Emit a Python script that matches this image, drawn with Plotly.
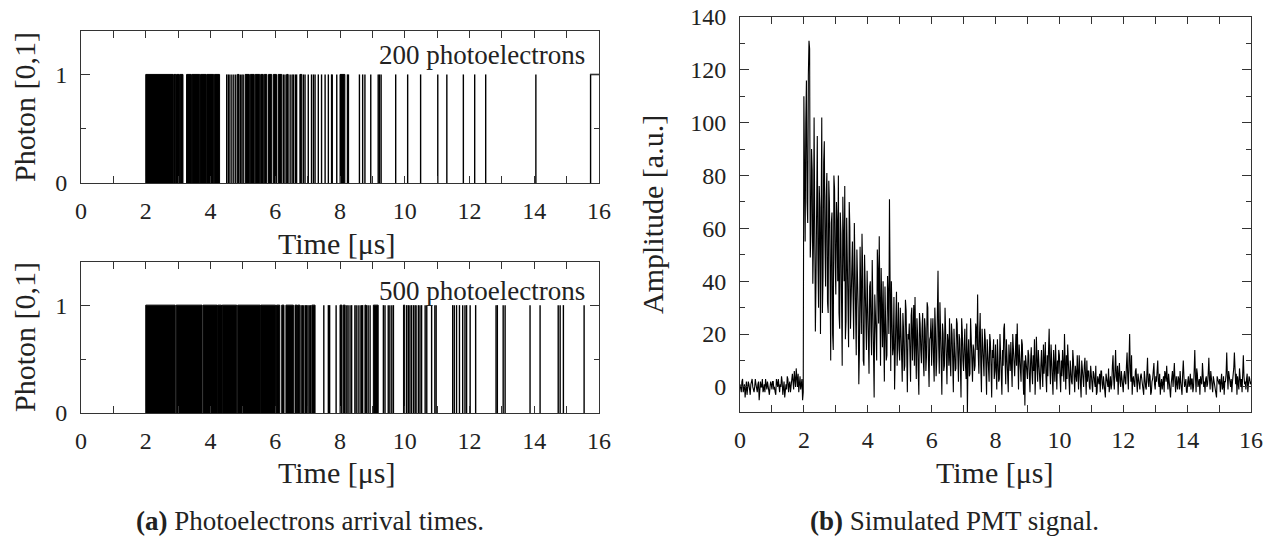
import plotly.graph_objects as go

# ---------------- data ----------------
# (a) top: 200 photoelectrons -- dense stretches read as solid blocks, plus single arrivals [us]
top_block_start = [2.00, 2.87, 2.95, 3.06, 3.26, 3.43, 3.69, 3.89, 4.12, 4.83, 5.07, 5.23, 5.38,
                   5.55, 5.66, 5.79, 5.94, 6.09, 6.35, 6.76, 8.00]
top_block_end = [2.85, 2.93, 3.04, 3.15, 3.41, 3.67, 3.87, 4.10, 4.28, 4.88, 5.20, 5.35, 5.52,
                 5.63, 5.74, 5.89, 6.04, 6.20, 6.40, 6.82, 8.15]
top_single = [4.50, 4.55, 4.60, 4.66, 4.72, 4.78, 4.92, 4.97, 5.01, 6.25, 6.30, 6.46, 6.52, 6.56,
              6.62, 6.66, 6.87, 6.92, 7.02, 7.12, 7.18, 7.23, 7.33, 7.43, 7.54, 7.64, 7.74, 7.76,
              7.90, 8.23, 8.26, 8.60, 8.70, 8.77, 8.95, 9.18, 9.22, 9.27, 9.72, 10.09, 10.49,
              11.02, 11.30, 11.81, 12.16, 12.50, 14.05]
top_open_pulse = 15.74  # last pulse still high at end of record
record_end = 16.0

# (a) bottom: 500 photoelectrons
bot_block_start = [2.00, 2.94, 3.77, 4.22, 4.36, 4.84, 5.56, 6.04, 6.20, 6.33, 6.61, 6.69, 7.13,
                   8.00, 8.10, 8.77, 9.03, 9.96]
bot_block_end = [2.91, 3.74, 4.20, 4.34, 4.81, 5.54, 6.01, 6.14, 6.27, 6.56, 6.67, 6.76, 7.23,
                 8.06, 8.16, 8.80, 9.18, 10.00]
bot_single = [6.80, 6.84, 6.88, 6.93, 6.97, 7.01, 7.05, 7.09, 7.50, 7.64, 7.68, 7.88, 8.21, 8.25,
              8.31, 8.36, 8.46, 8.50, 8.56, 8.62, 8.67, 8.70, 8.82, 8.87, 8.93, 9.34, 9.39, 9.49,
              9.54, 9.60, 9.65, 10.06, 10.11, 10.16, 10.21, 10.27, 10.32, 10.35, 10.42, 10.47,
              10.52, 10.63, 10.68, 10.83, 10.93, 10.97, 11.48, 11.53, 11.60, 11.69, 11.79, 11.86,
              11.91, 12.02, 12.19, 12.82, 12.86, 13.04, 13.10, 13.87, 14.18, 14.74, 14.80, 14.90,
              15.54]

# (b) simulated PMT signal, sampled every 0.02 us from 0 to 16 us
#     samples at t = 0.00, 0.04, 0.08, ...
pmt_t0 = 0.0
pmt_dt = 0.02
pmt_amp_even = [
    1, -2, 3, 0, -4, 2, -1, 1, -3, 2, 0, -2, 3, -1, 1, -5, 2, 0, -2, 1, 3, -1, 0, -3, 2,
    -1, 2, 0, -3, 1, 3, -2, 0, 2, -1, -4, 1, 4, -2, 2, 0, 5, -1, 3, 7, 0, -2, 4, 1, -5,
    110, 55, 116, 62, 131, 49, 90, 39, 102, 21, 82, 48, 76, 20, 102, 42, 93, 38, 81, 28, 70, 10, 66, 14, 75,
    35, 62, 80, 22, 58, 8, 57, 76, 25, 50, 15, 60, 30, 55, 18, 48, 12, 42, 1, 53, 20, 45, 8, 38, 14,
    34, 5, 40, 12, 27, -4, 30, 10, 44, 57, 8, 33, 40, 2, 28, 12, 34, 71, 6, 30, 15, -1, 26, 8, 32,
    10, 24, 2, 22, 8, 29, -2, 18, 5, 27, 10, 31, 34, 3, 20, -3, 24, 9, 28, 4, 22, 12, 30, 0, 19,
    8, 26, 2, 22, 10, 44, 5, 25, -3, 20, 8, 23, 1, 17, 26, 4, 20, -2, 16, 7, 24, 2, 18, -4, 21,
    6, 22, 3, -10, 18, 5, 20, 2, 14, 8, 22, 35, 5, 28, -2, 15, 4, 18, -3, 12, 2, 17, -4, 11, 3,
    16, -1, 10, 3, 13, -3, 8, 24, 1, 12, -2, 9, 17, 0, 14, 4, 20, 24, -1, 10, 2, 16, -3, -7, 9,
    3, 12, -2, 15, 1, 6, -3, 19, 2, 8, -1, 14, 0, 5, 17, -2, 4, 22, 1, 11, -3, 7, 16, -1, 5,
    12, -2, 4, 9, 20, -1, 3, 8, -3, 5, 1, 10, -2, 3, 12, -1, 4, -4, 7, 0, 11, -3, 2, 6, -1,
    3, -2, 5, 0, -3, 4, 1, -2, 6, -1, 2, -4, 3, 0, -2, 4, 1, 12, -1, 14, 2, -3, 9, 0, 3,
    -2, 6, 1, 13, -1, 20, 2, -3, 4, 0, 7, -2, 3, -1, 5, 1, -3, 2, -1, 11, 0, 4, -2, 3, 9,
    -1, 2, 10, 0, -3, 3, 1, -2, 5, 8, -1, 2, -4, 3, 0, 9, -2, 1, 4, -1, 2, -3, 10, 0, 3,
    -2, 4, 1, -1, 3, 0, 14, -2, 5, 1, -3, 2, 9, 0, -2, 4, 1, 11, -1, 3, -2, 2, 0, -4, 3,
    1, -2, 5, 0, -3, 2, 13, -1, 3, 0, -2, 4, 13, 1, -3, 2, 7, 0, -2, 12, 1, -1, 5, 0, 3,
    2,
]
#     samples at t = 0.02, 0.06, 0.10, ...
pmt_amp_odd = [
    -1, 2, -2, 1, 0, -3, 2, -1, 1, 3, -2, 0, 1, -2, 2, -1, 0, 3, -1, -2, 1, 2, -3, 0, 1,
    2, -1, -2, 3, 0, -1, 1, 4, -3, 2, 0, -1, 3, 1, -2, 4, 2, 6, 0, 3, 5, 1, -1, 3, -2,
    88, 100, 70, 118, 128, 58, 82, 54, 70, 40, 95, 30, 68, 58, 28, 85, 55, 72, 32, 78, 45, 62, 20, 80, 48,
    70, 40, 28, 66, 32, 72, 40, 18, 64, 28, 70, 22, 46, 34, 62, 26, 52, 30, 14, 36, 58, 10, 50, 26, 44,
    18, 38, 22, 48, 14, 35, 20, 52, 24, 18, 45, 15, 22, 38, 10, 42, 20, 30, 40, 12, 34, 20, 36, 18, 14,
    30, 12, 28, 6, 33, 14, 20, 24, 2, 30, 18, 8, 16, 26, 6, 28, 14, 22, 10, 26, 6, 32, 10, 18, 26,
    20, 10, 30, 4, 28, 16, 32, 10, 24, 6, 30, 12, 20, 8, 10, 24, 10, 22, 6, 26, 12, 20, 8, 26, 10,
    16, 8, 24, 12, 4, 26, 10, 16, 6, 24, 14, 12, 20, 8, 22, 6, 22, 8, 18, 4, 20, 8, 14, 18, 6,
    6, 18, 2, 20, 6, 14, 22, 10, 18, 4, 16, 6, 4, 20, 6, 12, 8, 12, 16, 4, 18, 6, 10, 12, 4,
    14, 4, 10, 6, 12, 18, 6, 10, 14, 2, 8, 6, 16, 10, 4, 12, 14, 8, 16, 2, 14, 2, 6, 10, 14,
    4, 10, 14, 2, 8, 12, 16, 0, 10, 2, 14, 4, 8, 2, 6, 12, 0, 10, 2, 8, 4, 10, 6, 0, 8,
    0, 6, 2, 8, -2, 2, 5, 6, 1, 4, 0, 5, 2, 7, 1, -1, 8, 3, 6, 4, 8, 5, 2, 6, -2,
    4, 2, 8, 4, 10, 6, 12, 3, 1, 6, 2, 5, 0, 4, 3, -2, 6, 0, 4, 2, 5, -3, 2, 6, 1,
    4, 6, 2, 5, 1, -1, 4, 6, 2, 3, 5, -2, 1, 6, 7, 2, 4, -1, 3, 6, 0, 5, 4, 1, -2,
    2, 0, 5, 3, -2, 6, 4, 7, 0, 3, 4, 1, 5, 2, 3, 0, 5, 3, 6, -1, 4, 2, -3, 4, 1,
    3, 2, -1, 4, 2, 5, 4, 6, 1, 3, 2, 7, 3, 5, 4, -1, 2, 3, 5, 4, 2, 3, -2, 4, 1,
]

pmt_amplitude = []
for i, v in enumerate(pmt_amp_even):
    pmt_amplitude.append(v)
    if i < len(pmt_amp_odd):
        pmt_amplitude.append(pmt_amp_odd[i])
pmt_time = [pmt_t0 + i * pmt_dt for i in range(len(pmt_amplitude))]

time_ticks = [0, 2, 4, 6, 8, 10, 12, 14, 16]

# ---------------- helpers ----------------
def blocks_xy(starts, ends):
    xs, ys = [], []
    for a, b in zip(starts, ends):
        xs += [a, a, b, b, None]
        ys += [0, 1, 1, 0, None]
    return xs, ys


def lines_xy(times):
    xs, ys = [], []
    for t in times:
        xs += [t, t, None]
        ys += [0, 1, None]
    return xs, ys


BLACK = "#000000"
FRAME = "#333333"
FONT = "Liberation Serif"

fig = go.Figure()

# top panel
bx, by = blocks_xy(top_block_start, top_block_end)
fig.add_trace(go.Scatter(x=bx, y=by, mode="lines", fill="toself", fillcolor=BLACK,
                         line=dict(color=BLACK, width=1), xaxis="x", yaxis="y",
                         showlegend=False, hoverinfo="skip"))
lx, ly = lines_xy(top_single)
lx += [top_open_pulse, top_open_pulse, record_end]
ly += [0, 1, 1]
fig.add_trace(go.Scatter(x=lx, y=ly, mode="lines", line=dict(color=BLACK, width=1.4),
                         xaxis="x", yaxis="y", showlegend=False, hoverinfo="skip"))

# bottom panel
bx, by = blocks_xy(bot_block_start, bot_block_end)
fig.add_trace(go.Scatter(x=bx, y=by, mode="lines", fill="toself", fillcolor=BLACK,
                         line=dict(color=BLACK, width=1), xaxis="x2", yaxis="y2",
                         showlegend=False, hoverinfo="skip"))
lx, ly = lines_xy(bot_single)
fig.add_trace(go.Scatter(x=lx, y=ly, mode="lines", line=dict(color=BLACK, width=1.4),
                         xaxis="x2", yaxis="y2", showlegend=False, hoverinfo="skip"))

# right panel
fig.add_trace(go.Scatter(x=pmt_time, y=pmt_amplitude, mode="lines",
                         line=dict(color=BLACK, width=1.1), xaxis="x3", yaxis="y3",
                         showlegend=False, hoverinfo="skip"))

W, H = 1272, 549


def px_x(p):
    return p / W


def px_y(p):
    return 1 - p / H


tickfont = dict(family=FONT, size=24, color="#222")

def xaxis(domain, anchor):
    return dict(domain=domain, anchor=anchor, range=[0, 16], tickvals=time_ticks,
                ticks="inside", ticklen=7, tickcolor=FRAME, tickwidth=1,
                minor=dict(dtick=1, tick0=0, ticks="inside", ticklen=7, tickcolor=FRAME),
                showline=True, linecolor=FRAME, linewidth=1, mirror="allticks",
                showgrid=False, zeroline=False, tickfont=tickfont, ticklabelstandoff=6,
                automargin=False)


def yaxis(domain, anchor, rng, dtick, minor_dtick):
    return dict(domain=domain, anchor=anchor, range=rng, dtick=dtick, tick0=0,
                ticks="inside", ticklen=9, tickcolor=FRAME, tickwidth=1,
                minor=dict(dtick=minor_dtick, tick0=0, ticks="inside", ticklen=5, tickcolor=FRAME),
                showline=True, linecolor=FRAME, linewidth=1, mirror="allticks",
                showgrid=False, zeroline=False, tickfont=tickfont, ticklabelstandoff=8,
                automargin=False)


lx0, lx1 = px_x(81), px_x(599)
rx0, rx1 = px_x(740), px_x(1251)

fig.update_layout(
    width=W, height=H,
    margin=dict(l=0, r=0, t=0, b=0, autoexpand=False),
    paper_bgcolor="white", plot_bgcolor="white",
    font=dict(family=FONT, color="#222"),
    xaxis=xaxis([lx0, lx1], "y"),
    yaxis=yaxis([px_y(183), px_y(31)], "x", [0, 1.4], 1, 0.5),
    xaxis2=xaxis([lx0, lx1], "y2"),
    yaxis2=yaxis([px_y(413), px_y(262)], "x2", [0, 1.4], 1, 0.5),
    xaxis3=xaxis([rx0, rx1], "y3"),
    yaxis3=yaxis([px_y(412), px_y(17)], "x3", [-9.5, 140], 20, 10),
)

title_font = dict(family=FONT, size=30, color="#222")
ann = []
# axis titles
ann.append(dict(text="Time [μs]", x=px_x(337), y=px_y(243), xref="paper", yref="paper",
                showarrow=False, font=title_font, xanchor="center", yanchor="middle"))
ann.append(dict(text="Time [μs]", x=px_x(337), y=px_y(472), xref="paper", yref="paper",
                showarrow=False, font=title_font, xanchor="center", yanchor="middle"))
ann.append(dict(text="Time [μs]", x=px_x(995), y=px_y(472), xref="paper", yref="paper",
                showarrow=False, font=title_font, xanchor="center", yanchor="middle"))
ann.append(dict(text="Photon [0,1]", x=px_x(24), y=px_y(107), xref="paper", yref="paper",
                showarrow=False, font=title_font, textangle=-90, xanchor="center", yanchor="middle"))
ann.append(dict(text="Photon [0,1]", x=px_x(24), y=px_y(337), xref="paper", yref="paper",
                showarrow=False, font=title_font, textangle=-90, xanchor="center", yanchor="middle"))
ann.append(dict(text="Amplitude [a.u.]", x=px_x(652), y=px_y(215), xref="paper", yref="paper",
                showarrow=False, font=title_font, textangle=-90, xanchor="center", yanchor="middle"))
# in-panel labels
lab_font = dict(family=FONT, size=27, color="#222")
ann.append(dict(text="200 photoelectrons", x=px_x(587), y=px_y(55), xref="paper", yref="paper",
                showarrow=False, font=lab_font, xanchor="right", yanchor="middle"))
ann.append(dict(text="500 photoelectrons", x=px_x(587), y=px_y(291), xref="paper", yref="paper",
                showarrow=False, font=lab_font, xanchor="right", yanchor="middle"))
# captions
cap_font = dict(family=FONT, size=27, color="#222")
ann.append(dict(text="<b>(a)</b> Photoelectrons arrival times.", x=px_x(310), y=px_y(521),
                xref="paper", yref="paper", showarrow=False, font=cap_font,
                xanchor="center", yanchor="middle"))
ann.append(dict(text="<b>(b)</b> Simulated PMT signal.", x=px_x(954), y=px_y(521),
                xref="paper", yref="paper", showarrow=False, font=cap_font,
                xanchor="center", yanchor="middle"))
fig.update_layout(annotations=ann)

fig.write_html("out.html")
